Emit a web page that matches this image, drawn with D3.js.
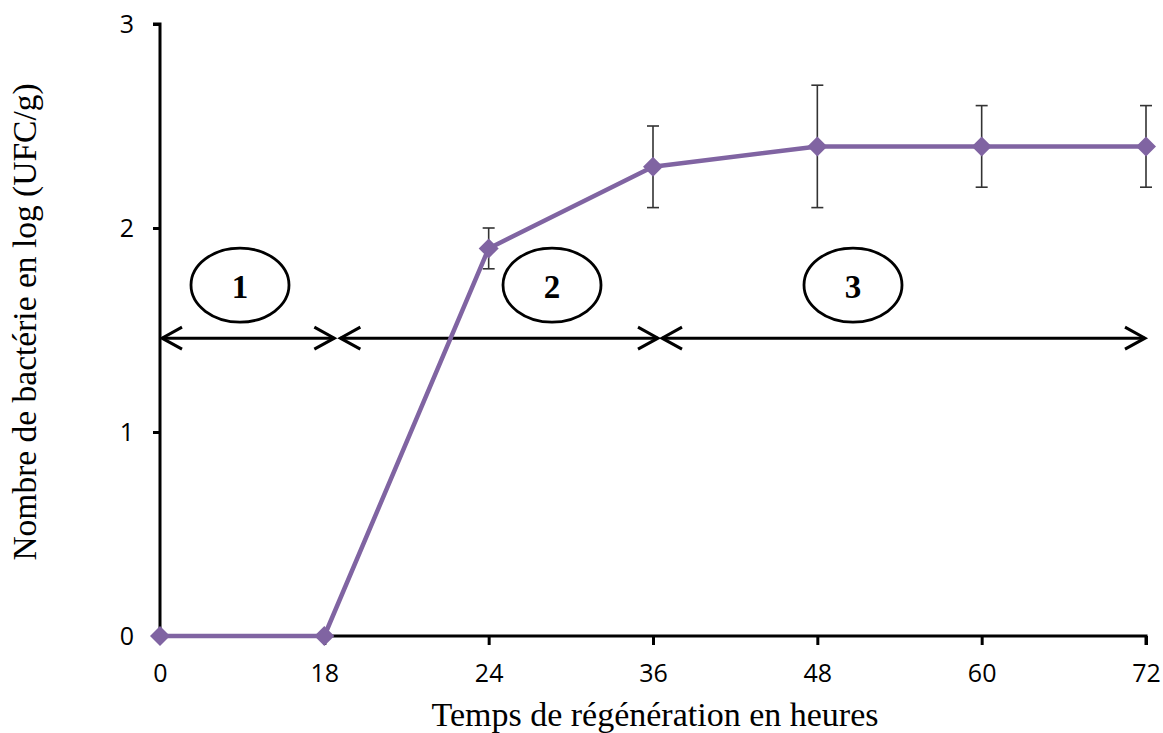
<!DOCTYPE html>
<html>
<head>
<meta charset="utf-8">
<script src="https://cdn.jsdelivr.net/npm/d3@7"></script>
<style>
  html, body { margin: 0; padding: 0; background: #fff; }
  svg { display: block; }
</style>
</head>
<body>
<svg id="chart" width="1163" height="733"></svg>
<script>
// Growth of bacteria (log UFC/g) over regeneration time
const hours = ["0", "18", "24", "36", "48", "60", "72"];
const logCount = [0, 0, 1.9, 2.3, 2.4, 2.4, 2.4];
const errLow = [0, 0, 0.1, 0.2, 0.3, 0.2, 0.2];
const errHigh = [0, 0, 0.1, 0.2, 0.3, 0.2, 0.2];
const yTicks = [0, 1, 2, 3];

// Growth phases: start/end category and label
const phaseLabels = ["1", "2", "3"];
const phaseStart = ["0", "18", "36"];
const phaseEnd = ["18", "36", "72"];
const phaseLevel = 1.46;
const labelLevel = 1.72;

const svg = d3.select("#chart");
const x = d3.scalePoint().domain(hours).range([160, 1146]);
const y = d3.scaleLinear().domain([0, 3]).range([636, 24]);

const purple = "#8064a2";
const tickFont = "'Open Sans', 'Noto Sans', sans-serif";
const serif = "'Liberation Serif', 'Times New Roman', serif";

// Y axis
const yAxis = svg.append("g")
  .attr("transform", "translate(160,0)")
  .call(d3.axisLeft(y).tickValues(yTicks).tickFormat(d3.format("d")).tickSize(7).tickPadding(19));
yAxis.attr("font-size", null).attr("font-family", null);
yAxis.select(".domain").attr("stroke", "#000").attr("stroke-width", 3)
  .attr("d", `M-7,${y(3)}H0V${y(0)}`);
yAxis.selectAll(".tick line").attr("stroke", "#000").attr("stroke-width", 3);
yAxis.selectAll(".tick text")
  .style("font-family", tickFont).style("font-size", "25px").attr("fill", "#000");

// X axis
const xAxis = svg.append("g")
  .attr("transform", `translate(0,${y(0)})`)
  .call(d3.axisBottom(x).tickSize(9).tickPadding(19));
xAxis.attr("font-size", null).attr("font-family", null);
xAxis.select(".domain").attr("stroke", "#000").attr("stroke-width", 3)
  .attr("d", `M${x("0")},0H${x("72")}V9`);
xAxis.selectAll(".tick line").attr("stroke", "#000").attr("stroke-width", 3);
xAxis.selectAll(".tick").filter(d => d === "0").select("line").remove();
xAxis.selectAll(".tick text")
  .style("font-family", tickFont).style("font-size", "25px").attr("fill", "#000");

// Axis titles
svg.append("text")
  .attr("x", 655).attr("y", 726)
  .attr("text-anchor", "middle")
  .style("font-family", serif).style("font-size", "34px")
  .text("Temps de régénération  en heures");

svg.append("text")
  .attr("transform", "translate(36,322) rotate(-90)")
  .attr("text-anchor", "middle")
  .style("font-family", serif).style("font-size", "33.5px")
  .text("Nombre de bactérie en log (UFC/g)");

// Phase arrows (small gaps around the phase boundaries)
const arrowY = y(phaseLevel);
const startPad = [2, 16, 9];
const endPad = [-10, -5, 1];
const ph = svg.append("g").attr("stroke", "#000").attr("stroke-width", 3).attr("fill", "none");
phaseStart.forEach((s, i) => {
  const x0 = x(s) + startPad[i];
  const x1 = x(phaseEnd[i]) - endPad[i];
  ph.append("line").attr("x1", x0).attr("x2", x1).attr("y1", arrowY).attr("y2", arrowY);
  ph.append("path").attr("d", `M${x0 + 20},${arrowY - 11}L${x0},${arrowY}L${x0 + 20},${arrowY + 11}`);
  ph.append("path").attr("d", `M${x1 - 20},${arrowY - 11}L${x1},${arrowY}L${x1 - 20},${arrowY + 11}`);
});

// Phase labels in ellipses
const labelX = [240, 552, 853];
phaseLabels.forEach((lab, i) => {
  const cy = y(labelLevel);
  svg.append("ellipse")
    .attr("cx", labelX[i]).attr("cy", cy).attr("rx", 49).attr("ry", 37)
    .attr("fill", "#fff").attr("stroke", "#000").attr("stroke-width", 2.8);
  svg.append("text")
    .attr("x", labelX[i]).attr("y", cy + 13)
    .attr("text-anchor", "middle")
    .style("font-family", serif).style("font-weight", "bold").style("font-size", "33px")
    .text(lab);
});

// Error bars
const eb = svg.append("g").attr("stroke", "#333").attr("stroke-width", 1.6);
hours.forEach((h, i) => {
  if (errLow[i] === 0 && errHigh[i] === 0) return;
  const cx = x(h);
  const top = y(logCount[i] + errHigh[i]);
  const bot = y(logCount[i] - errLow[i]);
  eb.append("line").attr("x1", cx).attr("x2", cx).attr("y1", top).attr("y2", bot);
  eb.append("line").attr("x1", cx - 6).attr("x2", cx + 6).attr("y1", top).attr("y2", top);
  eb.append("line").attr("x1", cx - 6).attr("x2", cx + 6).attr("y1", bot).attr("y2", bot);
});

// Growth curve
const line = d3.line().x((d, i) => x(hours[i])).y(d => y(d));
svg.append("path")
  .datum(logCount)
  .attr("d", line)
  .attr("fill", "none").attr("stroke", purple).attr("stroke-width", 4.5)
  .attr("stroke-linejoin", "round");

// Diamond markers
svg.append("g").selectAll("path")
  .data(logCount)
  .join("path")
  .attr("transform", (d, i) => `translate(${x(hours[i])},${y(d)})`)
  .attr("d", "M0,-10L10,0L0,10L-10,0Z")
  .attr("fill", purple);
</script>
</body>
</html>
